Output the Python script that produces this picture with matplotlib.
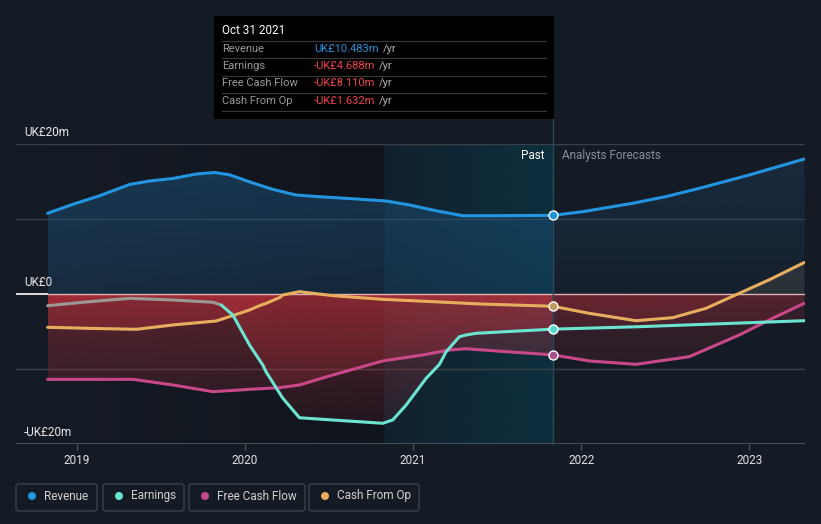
import numpy as np
import matplotlib
matplotlib.use("Agg")
import matplotlib.pyplot as plt
from matplotlib.path import Path
from matplotlib.patches import FancyBboxPatch, Rectangle, PathPatch, Ellipse
from matplotlib.colors import to_rgb

plt.rcParams['font.family'] = ['Roboto', 'DejaVu Sans']

# ---------------- data (UK£ m, x in fractional years) ----------------
rev_x = [2018.828, 2018.978, 2019.137, 2019.315, 2019.434, 2019.572, 2019.711, 2019.820,
         2019.909, 2020.048, 2020.166, 2020.266, 2020.305, 2020.424, 2020.662, 2020.840,
         2020.979, 2021.137, 2021.295, 2021.454, 2021.83, 2022.007, 2022.304, 2022.506,
         2022.702, 2022.999, 2023.326]
rev_y = [10.76, 11.96, 13.1, 14.6, 15.07, 15.4, 16.0, 16.2,
         15.9, 14.8, 13.96, 13.4, 13.2, 13.0, 12.67, 12.4,
         11.87, 11.1, 10.44, 10.44, 10.483, 10.97, 12.09, 13.0,
         14.09, 15.87, 18.0]

earn_x = [2018.828, 2019.077, 2019.315, 2019.572, 2019.810, 2019.860, 2019.929, 2020.028,
          2020.107, 2020.127, 2020.226, 2020.325, 2020.523, 2020.820, 2020.879, 2020.959,
          2021.078, 2021.157, 2021.197, 2021.276, 2021.315, 2021.375, 2021.553, 2021.83,
          2022.345, 2023.326]
earn_y = [-1.56, -1.02, -0.58, -0.8, -1.1, -1.47, -2.8, -6.8,
          -9.47, -10.4, -13.9, -16.5, -16.8, -17.24, -16.8, -14.8,
          -11.24, -9.38, -7.69, -5.69, -5.47, -5.24, -5.02, -4.688,
          -4.36, -3.56]

fcf_x = [2018.828, 2019.335, 2019.572, 2019.810, 2019.969, 2020.028, 2020.206, 2020.325,
         2020.523, 2020.820, 2021.058, 2021.216, 2021.315, 2021.553, 2021.83, 2022.048,
         2022.326, 2022.642, 2022.939, 2023.137, 2023.326]
fcf_y = [-11.38, -11.38, -12.13, -13.02, -12.8, -12.71, -12.49, -12.13,
         -10.8, -8.93, -8.13, -7.47, -7.3, -7.69, -8.110, -8.93,
         -9.38, -8.36, -5.47, -3.24, -1.24]

cfo_x = [2018.828, 2019.077, 2019.355, 2019.572, 2019.830, 2019.969, 2020.028, 2020.087,
         2020.127, 2020.206, 2020.226, 2020.325, 2020.523, 2020.820, 2021.117, 2021.395,
         2021.83, 2022.048, 2022.326, 2022.543, 2022.742, 2022.939, 2023.118, 2023.326]
cfo_y = [-4.44, -4.58, -4.71, -4.13, -3.6, -2.58, -2.13, -1.56,
         -1.24, -0.49, -0.13, 0.31, -0.22, -0.71, -1.02, -1.33,
         -1.632, -2.58, -3.56, -3.16, -1.91, 0.09, 1.9, 4.2]

series_names = ["Revenue", "Earnings", "Free Cash Flow", "Cash From Op"]
series_colors = ["#2394df", "#6ce4d2", "#c8488a", "#e8ae60"]
tooltip_values = ["UK£10.483m", "-UK£4.688m", "-UK£8.110m", "-UK£1.632m"]
tooltip_colors = ["#2394df", "#f0434a", "#f0434a", "#f0434a"]
year_ticks = [2019, 2020, 2021, 2022, 2023]
y_labels = ["UK£20m", "UK£0", "-UK£20m"]
y_label_vals = [20, 0, -20]

past_start, highlight_start, now = 2018.828, 2020.83, 2021.83
xmin, xmax = 2018.64, 2023.33

BG = "#151b25"
W, H = 821, 524

# ---------------- figure ----------------
fig = plt.figure(figsize=(W / 100, H / 100), dpi=100, facecolor=BG)
ax = fig.add_axes([16 / W, 80 / H, 789 / W, 300 / H])
ax.set_facecolor(BG)
for s in ax.spines.values():
    s.set_visible(False)
ax.set_yticks([])
ax.set_xticks(year_ticks)
ax.set_xticklabels([str(y) for y in year_ticks], color="#e0e0e0", fontsize=8.5)
ax.tick_params(axis='x', length=4, color="#555b63", pad=3)

# past background gradient (dark) and highlight band (teal)
grad = np.linspace(0, 1, 256).reshape(1, -1)
dark = np.zeros((1, 256, 4))
dark[..., :3] = to_rgb("#0c0f15")
dark[..., 3] = 0.55 * grad
ax.imshow(dark, extent=[past_start, highlight_start, -20, 20], aspect='auto', zorder=0.1,
          interpolation='bilinear')
band = np.zeros((1, 256, 4))
band[..., :3] = to_rgb("#0b3242")
band[..., 3] = 0.3 + 0.55 * grad
ax.imshow(band, extent=[highlight_start, now, -20, 20], aspect='auto', zorder=0.1,
          interpolation='bilinear')

# gridlines
for gy in [20, 10, -10]:
    ax.axhline(gy, color="#39404a", lw=1, zorder=0.5)
ax.axhline(-20, color="#555b63", lw=1.2, zorder=0.5)


def grad_fill(x, y, rgb, a_near, a_far, positive, lo=None, hi=None):
    x = np.asarray(x, float)
    y = np.asarray(y, float)
    m = np.ones_like(x, bool)
    if lo is not None:
        m &= x >= lo
    if hi is not None:
        m &= x <= hi
    x, y = x[m], y[m]
    yy = np.maximum(y, 0) if positive else np.minimum(y, 0)
    verts = list(zip(x, yy)) + [(x[-1], 0), (x[0], 0)]
    patch = PathPatch(Path(verts), facecolor='none', edgecolor='none', transform=ax.transData)
    ax.add_patch(patch)
    arr = np.zeros((256, 1, 4))
    arr[..., :3] = to_rgb(rgb)
    t = np.linspace(0, 1, 256).reshape(-1, 1)
    if positive:
        ext = [x[0], x[-1], 0, 20]
        arr[..., 3] = a_far * (1 - t) + a_near * t
        arr[..., 3] = a_near * (1 - t) + a_far * t
    else:
        ext = [x[0], x[-1], -20, 0]
        arr[..., 3] = a_near * (1 - t) + a_far * t
    im = ax.imshow(arr, extent=ext, aspect='auto', zorder=1, interpolation='bilinear')
    im.set_clip_path(patch)


# past fills
grad_fill(rev_x, rev_y, "#1e5580", 0.55, 0.3, True, hi=now)
for xs, ys in [(earn_x, earn_y), (fcf_x, fcf_y), (cfo_x, cfo_y)]:
    grad_fill(xs, ys, "#c0323c", 0.42, 0.05, False, hi=now)
# forecast fills (dimmer)
grad_fill(rev_x, rev_y, "#1e4a70", 0.35, 0.12, True, lo=now)
for xs, ys in [(earn_x, earn_y), (fcf_x, fcf_y), (cfo_x, cfo_y)]:
    grad_fill(xs, ys, "#b0303a", 0.22, 0.04, False, lo=now)
grad_fill(cfo_x, cfo_y, "#4a4a48", 0.55, 0.4, True, lo=now)

ax.set_xlim(xmin, xmax)
ax.set_ylim(-20, 20)

# zero line
ax.plot([xmin, past_start], [0, 0], color="#ffffff", lw=1.2, zorder=2, solid_capstyle='butt')
ax.plot([past_start, xmax], [0, 0], color="#f4c8c8", lw=1.0, zorder=2, alpha=0.85)

# series lines
lw = 2.2
kw = dict(lw=lw, zorder=4, solid_capstyle='round', solid_joinstyle='round')
ax.plot(rev_x, rev_y, color=series_colors[0], **kw)
ax.plot(fcf_x, fcf_y, color=series_colors[2], **kw)
ax.plot(cfo_x, cfo_y, color=series_colors[3], **kw)
k = 5  # earnings drawn grey until the drop begins
ax.plot(earn_x[:k + 1], earn_y[:k + 1], color="#9c9896", **kw)
ax.plot(earn_x[k:], earn_y[k:], color=series_colors[1], **kw)

# markers at "now"
now_vals = [rev_y[rev_x.index(now)], earn_y[earn_x.index(now)],
            fcf_y[fcf_x.index(now)], cfo_y[cfo_x.index(now)]]
marker_fc = ["#2394df", "#5ad8d0", "#a8508a", "#c09a60"]
for v, c in zip(now_vals, marker_fc):
    ax.plot([now], [v], marker='o', ms=6.5, mfc=c, mec="#ffffff", mew=1.0, zorder=6)

# vertical now line
ax.plot([now, now], [-20, 20 + 25 / 7.5], color="#2c4a58", lw=1, zorder=3, clip_on=False)

# y labels
for lab, v in zip(y_labels, y_label_vals):
    fig.text(24 / W, 1 - (294 - v * 7.5 - 12) / H, lab, color="#e8e8e8", fontsize=8.5,
             va='center', ha='left')

# Past / Analysts Forecasts
fig.text(544 / W, 1 - 156 / H, "Past", color="#ffffff", fontsize=8.5, ha='right', va='center')
fig.text(562 / W, 1 - 156 / H, "Analysts Forecasts", color="#8a9099", fontsize=8.5,
         ha='left', va='center')

# tooltip
fig.patches.append(Rectangle((214 / W, 1 - 119 / H), 340 / W, 103 / H,
                             transform=fig.transFigure, facecolor="#000000", edgecolor="none",
                             zorder=10))
fig.text(222 / W, 1 - 31 / H, "Oct 31 2021", color="#ffffff", fontsize=8.5, va='center',
         zorder=11)
row_y = [49, 66, 83, 101]
for yy in [41, 58, 76, 93, 111]:
    fig.lines.append(plt.Line2D([222 / W, 546 / W], [1 - yy / H, 1 - yy / H],
                                transform=fig.transFigure, color="#3a3a3a", lw=0.8, zorder=11))
val_texts = []
for name, val, vc, ry in zip(series_names, tooltip_values, tooltip_colors, row_y):
    fig.text(222 / W, 1 - ry / H, name, color="#9a9a9a", fontsize=8, va='center', zorder=12)
    val_texts.append(fig.text(314 / W, 1 - ry / H, val, color=vc, fontsize=8, va='center',
                              zorder=12))
fig.canvas.draw()
r = fig.canvas.get_renderer()
for ry, tt in zip(row_y, val_texts):
    bb = tt.get_window_extent(renderer=r)
    fig.text((bb.x1 + 4) / W, 1 - ry / H, "/yr", color="#b0b0b0", fontsize=8, va='center',
             zorder=12)

# legend boxes
boxes = [(16, 97), (103, 184), (189, 305), (309, 419)]
for (x0, x1), name, c in zip(boxes, series_names, series_colors):
    fig.patches.append(FancyBboxPatch((x0 / W, 1 - 511 / H), (x1 - x0) / W, 27 / H,
                                      boxstyle="round,pad=0,rounding_size=0.004",
                                      transform=fig.transFigure, facecolor="none",
                                      edgecolor="#3c434d", lw=1.0))
    fig.patches.append(Ellipse(((x0 + 16) / W, 1 - 496 / H), 8 / W, 8 / H,
                               transform=fig.transFigure, facecolor=c, edgecolor='none'))
    fig.text((x0 + 28) / W, 1 - 496 / H, name, color="#d0d0d0", fontsize=8.5, va='center')

fig.savefig("out.png", dpi=100, facecolor=BG)
